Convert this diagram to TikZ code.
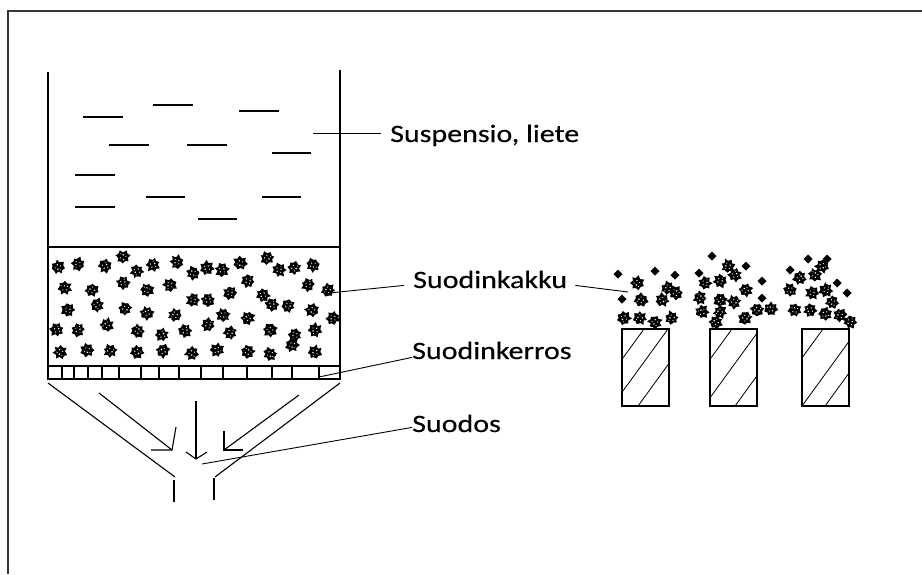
\documentclass[tikz,border=0pt]{standalone}
\usepackage{fontspec}
\setmainfont{Carlito}[FakeStretch=1.2,FakeBold=0.4]
\begin{document}
\begin{tikzpicture}[x=1pt,y=-1pt,
  frameline/.style={line width=2pt,draw=black!78},
  wall/.style={line width=1.7pt},
  liquidline/.style={line width=1.5pt},
  funnelline/.style={line width=1.1pt},
  leader/.style={line width=0.9pt},
  hatchline/.style={line width=0.8pt},
  lbl/.style={anchor=base west,inner sep=0pt,font=\fontsize{25}{30}\selectfont},
  grain/.pic={
    \pgfmathsetmacro\grot{360*rnd}
    \fill[rotate=\grot] (0:7.5) \foreach \k in {1,...,13}{ -- (\k*360/14:{ifthenelse(isodd(\k),4.3+1.4*rnd,6.2+2.0*rnd)}) } -- cycle;
    \fill[rotate=\grot] (2.5,-2.5) circle (2.6);
    \fill[white,rotate=\grot] (1.8,1.2) circle (0.85) (-2.3,-0.5) circle (0.75) (0.3,-2.7) circle (0.65) (-0.7,2.9) circle (0.6) (3.8,-0.6) circle (0.55);
  },
  speck/.pic={\fill (0,-4.5) -- (4.5,0) -- (0,4.5) -- (-4.5,0) -- cycle;}
]
\useasboundingbox (0,0) rectangle (922,574);
\pgfmathsetseed{17}

% outer frame (top and left edges)
\draw[frameline] (922,11) -- (8,11) -- (8,574);

% vessel walls and divider between liquid and cake
\draw[wall] (48,72) -- (48,379);
\draw[wall] (340,70) -- (340,379);
\draw[wall] (48,247) -- (340,247);

% suspension strokes
\foreach \xa/\xb/\yy in {83/123/117,153/193/105,239/279/111,109/149/145,187/227/145,
  272/311/153,75/115/175,146/185/197,262/301/197,75/115/207,198/237/219}
  \draw[liquidline] (\xa,\yy) -- (\xb,\yy);

% filter medium
\draw[wall] (48,366) rectangle (340,379);
\foreach \xx in {62,74,88,102,119,141,159,179,201,223,247,272,292,319}
  \draw[line width=1.2pt] (\xx,366) -- (\xx,379);

% filter cake grains
\foreach \p in {(58,267),(78,264),(105,266),(123,257),(137,271),(153,265),(177,262),
  (193,273),(207,268),(222,270),(240,263),(267,258),(279,270),(294,268),(313,265),
  (65,288),(92,290),(123,283),(147,290),(170,285),(193,300),(208,300),(230,293),
  (248,281),(263,295),(308,285),(328,290),
  (68,310),(97,305),(125,309),(147,313),(175,315),(223,315),(248,318),(272,305),
  (288,306),(312,310),(333,318),
  (57,330),(78,330),(107,325),(138,331),(162,335),(185,331),(208,325),(230,333),
  (270,330),(295,335),(315,330),
  (60,352),(87,350),(110,351),(137,352),(163,351),(192,353),(217,350),(248,352),
  (270,354),(292,345),(315,352)}
  \pic at \p {grain};

% funnel and outlet
\draw[funnelline] (48,383) -- (175,477);
\draw[funnelline] (340,383) -- (215,477);
\draw[wall] (174,480) -- (174,502);
\draw[wall] (214,478) -- (214,500);

% filtrate flow arrows
\draw[funnelline] (99,393) -- (172,450);
\draw[funnelline] (151,450) -- (172,450) -- (176,427);
\draw[funnelline] (196,401) -- (196,459);
\draw[funnelline] (186,452) -- (196,459) -- (207,452);
\draw[funnelline] (299,395) -- (224,450);
\draw[funnelline] (224,431) -- (224,450) -- (243,450);

% labels
\node[lbl] (susp) at (390,142) {Suspensio, liete};
\node[lbl] (kakku) at (413,288) {Suodinkakku};
\node[lbl] (kerros) at (412,359) {Suodinkerros};
\node[lbl] (suodos) at (412,432) {Suodos};

% leader lines
\coordinate (pSusp) at (313,133);
\coordinate (pKakku) at (329,293);
\coordinate (pKakkuR) at (628,292);
\coordinate (pKerros) at (319,377);
\coordinate (pSuodos) at (202,464);
\draw[leader] (pSusp) -- ([xshift=-9pt]susp.west |- pSusp);
\draw[leader] (pKakku) -- ([xshift=-9pt,yshift=-6pt]kakku.west);
\draw[leader] ([xshift=8pt,yshift=-6pt]kakku.east) -- (pKakkuR);
\draw[leader] (pKerros) -- ([yshift=-7pt]kerros.west);
\draw[leader] (pSuodos) -- ([yshift=-4pt]suodos.west);

% supports with hatching
\foreach \x/\o/\m/\n in {622/-34/-10/16, 710/-34/-6/25, 802/-35/0/23} {
  \begin{scope}
    \clip (\x,329) rectangle (\x+47,406);
    \foreach \a in {\o,\m,\n}
      \draw[hatchline] (\x+\a,406) -- (\x+\a+56,329);
  \end{scope}
  \draw[line width=1.4pt] (\x,329) rectangle (\x+47,406);
}
% grains resting on the supports
\foreach \p in {(637,283),(641,300),(624,318),(640,318),(662,300),(676,293),(672,318),
  (668,288),(655,322),
  (705,283),(720,281),(735,275),(746,290),(700,298),(720,300),(734,302),(702,312),
  (720,312),(745,318),(771,309),(716,322),(728,266),(757,310),
  (800,278),(815,275),(812,293),(790,290),(826,290),(832,302),(810,310),(825,314),
  (840,315),(850,322),(795,310),(822,266)}
  \pic at \p {grain};
\foreach \p in {(618,274),(655,271),(675,275),(622,299),
  (712,256),(699,273),(746,266),(762,281),(762,298),
  (808,259),(827,259),(837,283),(847,293),(790,270)}
  \pic at \p {speck};
\end{tikzpicture}
\end{document}
